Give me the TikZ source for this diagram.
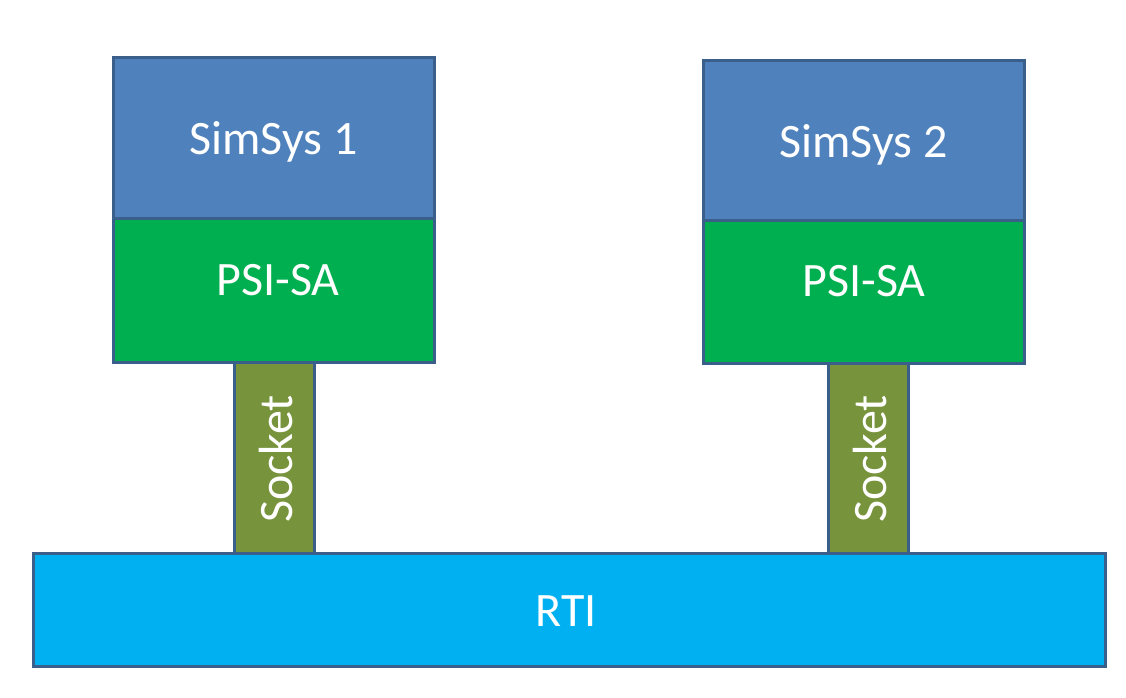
\documentclass[tikz,border=0pt]{standalone}
\usepackage{fontspec}
\setmainfont{Carlito}
\definecolor{edge}{HTML}{3A5F8B}
\definecolor{simblue}{HTML}{4F81BD}
\definecolor{psigreen}{HTML}{00B050}
\definecolor{sockolive}{HTML}{77933C}
\definecolor{rticyan}{HTML}{00B0F0}
\tikzset{
  blk/.style={draw=edge, line width=3pt},
  lbl/.style={text=white, inner sep=0pt, font=\fontsize{48}{54}\selectfont},
}
\begin{document}
\begin{tikzpicture}[x=1pt,y=-1pt]
\useasboundingbox (0,0) rectangle (1126,698);
% sockets first (behind)
\draw[blk, fill=sockolive] (234,362) rectangle (314,553);
\node[lbl, rotate=90] (sock1) at (276,459) {Socket};
\draw[blk, fill=sockolive] (828,363) rectangle (908,553);
\node[lbl, rotate=90] (sock2) at (870,459) {Socket};
% system 1
\draw[blk, fill=simblue] (113,58) rectangle (434,218);
\node[lbl] (sim1) at (273.5,142) {SimSys 1};
\draw[blk, fill=psigreen] (113,218) rectangle (434,362);
\node[lbl] (psi1) at (278,280) {PSI-SA};
% system 2
\draw[blk, fill=simblue] (703,61) rectangle (1024,220);
\node[lbl] (sim2) at (863.5,145) {SimSys 2};
\draw[blk, fill=psigreen] (703,220) rectangle (1024,363);
\node[lbl] (psi2) at (864,281) {PSI-SA};
% RTI
\draw[blk, fill=rticyan] (33,553) rectangle (1105,666);
\node[lbl] (rti) at (566,611) {RTI};
\end{tikzpicture}
\end{document}
